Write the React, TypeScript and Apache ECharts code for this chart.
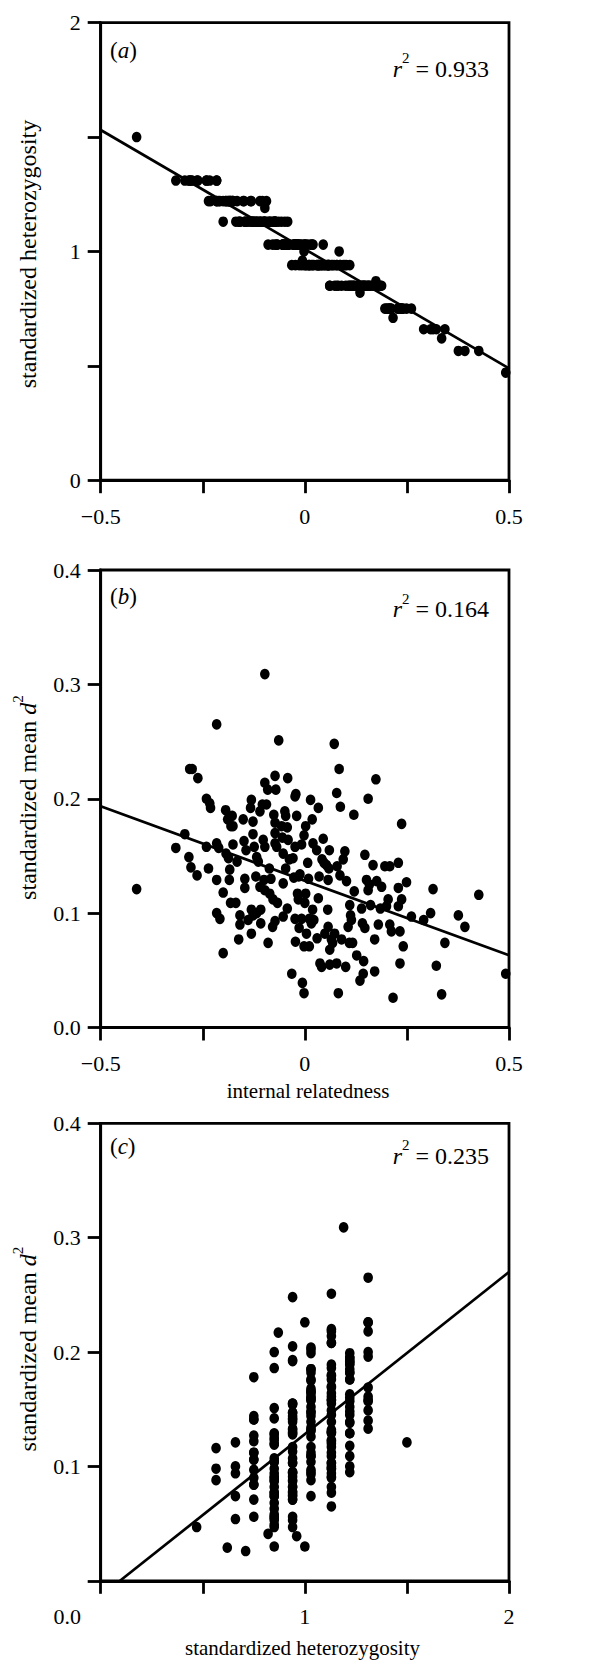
import React, { useEffect, useRef } from "react";
import * as echarts from "echarts";

// Each individual: internal relatedness (IR), standardized heterozygosity (HZ), standardized mean d2 (D2)
const IR = [
  -0.412, -0.316, -0.294, -0.284, -0.279, -0.264, -0.282, -0.276, -0.262, -0.241,
  -0.233, -0.231, -0.241, -0.236, -0.216, -0.216, -0.211, -0.216, -0.216, -0.208,
  -0.2, -0.2, -0.194, -0.189, -0.178, -0.181, -0.176, -0.193, -0.187, -0.184,
  -0.185, -0.182, -0.169, -0.166, -0.176, -0.162, -0.159, -0.159, -0.151, -0.149,
  -0.144, -0.147, -0.147, -0.139, -0.131, -0.133, -0.127, -0.127, -0.124, -0.118,
  -0.12, -0.114, -0.131, -0.127, -0.131, -0.118, -0.108, -0.108, -0.11, -0.104,
  -0.098, -0.094, -0.091, -0.102, -0.098, -0.11, -0.1, -0.098, -0.09, -0.087,
  -0.086, -0.083, -0.079, -0.078, -0.076, -0.073, -0.073, -0.071, -0.073, -0.073,
  -0.069, -0.067, -0.073, -0.064, -0.057, -0.055, -0.053, -0.053, -0.049, -0.047,
  -0.042, -0.043, -0.047, -0.043, -0.053, -0.041, -0.038, -0.032, -0.029, -0.027,
  -0.024, -0.022, -0.024, -0.024, -0.023, -0.02, -0.018, -0.016, -0.015, -0.014,
  -0.012, -0.008, -0.008, -0.006, -0.002, -0.002, -0.002, 0.0, 0.002, 0.002,
  0.004, 0.007, 0.009, 0.011, 0.011, 0.014, 0.016, 0.018, 0.019, 0.02,
  0.022, 0.029, 0.03, 0.033, 0.033, 0.035, 0.037, 0.041, 0.042, 0.045,
  0.047, 0.049, 0.053, 0.056, 0.057, 0.059, 0.06, 0.057, 0.061, 0.061,
  0.065, 0.068, 0.072, 0.073, 0.078, 0.078, 0.079, 0.082, 0.084, 0.086,
  0.087, 0.09, 0.094, 0.098, 0.1, 0.102, 0.106, 0.109, 0.11, 0.112,
  0.114, 0.117, 0.12, 0.121, 0.127, 0.135, 0.139, 0.141, 0.143, 0.144,
  0.147, 0.147, 0.151, 0.155, 0.155, 0.158, 0.161, 0.167, 0.171, 0.171,
  0.174, 0.176, 0.18, 0.185, 0.188, 0.196, 0.2, 0.204, 0.208, 0.208,
  0.212, 0.216, 0.229, 0.229, 0.229, 0.233, 0.233, 0.237, 0.237, 0.241,
  0.249, 0.261, 0.291, 0.308, 0.314, 0.322, 0.335, 0.343, 0.376, 0.392,
  0.426, 0.492, -0.098,
];

const HZ = [
  1.5, 1.31, 1.31, 1.31, 1.31, 1.31, 1.31, 1.31, 1.31, 1.31,
  1.31, 1.22, 1.31, 1.22, 1.31, 1.31, 1.22, 1.22, 1.22, 1.22,
  1.13, 1.22, 1.22, 1.22, 1.22, 1.22, 1.22, 1.22, 1.22, 1.22,
  1.22, 1.22, 1.13, 1.22, 1.22, 1.13, 1.13, 1.13, 1.22, 1.22,
  1.13, 1.13, 1.13, 1.13, 1.22, 1.22, 1.13, 1.13, 1.13, 1.13,
  1.13, 1.13, 1.13, 1.13, 1.13, 1.13, 1.13, 1.13, 1.22, 1.22,
  1.13, 1.22, 1.13, 1.13, 1.13, 1.13, 1.13, 1.13, 1.03, 1.13,
  1.13, 1.13, 1.03, 1.13, 1.13, 1.13, 1.13, 1.13, 1.13, 1.13,
  1.03, 1.03, 1.03, 1.13, 1.13, 1.03, 1.03, 1.03, 1.13, 1.03,
  1.13, 1.03, 1.03, 1.03, 1.03, 1.03, 1.03, 0.94, 1.03, 1.03,
  1.03, 1.03, 1.03, 1.03, 0.94, 1.03, 1.03, 1.03, 1.03, 0.94,
  1.03, 0.94, 1.03, 0.96, 1.0, 0.94, 1.03, 1.03, 0.94, 1.03,
  0.94, 1.03, 0.94, 0.94, 0.94, 1.03, 0.94, 1.03, 0.94, 1.03,
  0.94, 0.94, 0.94, 0.94, 0.94, 0.94, 0.94, 0.94, 0.94, 1.03,
  0.94, 0.94, 0.94, 0.94, 0.94, 0.94, 0.94, 0.94, 0.85, 0.85,
  0.94, 0.94, 0.94, 0.85, 0.94, 0.85, 0.94, 0.85, 1.0, 0.94,
  0.94, 0.85, 0.94, 0.94, 0.85, 0.94, 0.85, 0.85, 0.94, 0.85,
  0.85, 0.85, 0.85, 0.85, 0.85, 0.82, 0.85, 0.85, 0.85, 0.85,
  0.85, 0.85, 0.85, 0.85, 0.85, 0.85, 0.85, 0.85, 0.85, 0.85,
  0.87, 0.85, 0.85, 0.85, 0.85, 0.75, 0.75, 0.75, 0.75, 0.75,
  0.75, 0.71, 0.75, 0.75, 0.75, 0.75, 0.75, 0.75, 0.75, 0.75,
  0.75, 0.75, 0.66, 0.66, 0.66, 0.66, 0.62, 0.66, 0.565, 0.565,
  0.565, 0.47, 1.19,
];

const D2 = [
  0.121, 0.157, 0.169, 0.149, 0.14, 0.133, 0.226, 0.226, 0.218, 0.2,
  0.196, 0.192, 0.158, 0.139, 0.265, 0.161, 0.157, 0.129, 0.1, 0.095,
  0.065, 0.118, 0.19, 0.182, 0.185, 0.176, 0.176, 0.152, 0.148, 0.138,
  0.129, 0.109, 0.109, 0.145, 0.16, 0.077, 0.098, 0.09, 0.182, 0.163,
  0.155, 0.13, 0.122, 0.094, 0.199, 0.192, 0.18, 0.169, 0.158, 0.149,
  0.132, 0.145, 0.103, 0.098, 0.082, 0.1, 0.091, 0.103, 0.189, 0.195,
  0.214, 0.195, 0.208, 0.164, 0.158, 0.123, 0.129, 0.12, 0.074, 0.139,
  0.117, 0.13, 0.088, 0.112, 0.186, 0.179, 0.22, 0.208, 0.17, 0.161,
  0.158, 0.109, 0.093, 0.251, 0.176, 0.166, 0.152, 0.126, 0.189, 0.185,
  0.218, 0.175, 0.139, 0.104, 0.097, 0.164, 0.147, 0.047, 0.148, 0.131,
  0.202, 0.204, 0.158, 0.095, 0.075, 0.185, 0.117, 0.112, 0.132, 0.087,
  0.134, 0.095, 0.16, 0.039, 0.03, 0.071, 0.168, 0.109, 0.117, 0.176,
  0.082, 0.144, 0.13, 0.095, 0.071, 0.199, 0.091, 0.182, 0.103, 0.161,
  0.094, 0.155, 0.078, 0.192, 0.113, 0.132, 0.056, 0.053, 0.147, 0.165,
  0.144, 0.082, 0.142, 0.103, 0.129, 0.139, 0.155, 0.088, 0.068, 0.055,
  0.077, 0.074, 0.248, 0.082, 0.205, 0.056, 0.141, 0.03, 0.226, 0.133,
  0.193, 0.077, 0.147, 0.154, 0.053, 0.128, 0.088, 0.074, 0.107, 0.098,
  0.094, 0.074, 0.186, 0.119, 0.063, 0.041, 0.104, 0.091, 0.047, 0.058,
  0.087, 0.151, 0.129, 0.2, 0.12, 0.125, 0.107, 0.142, 0.077, 0.049,
  0.217, 0.128, 0.09, 0.104, 0.123, 0.141, 0.106, 0.112, 0.141, 0.09,
  0.084, 0.026, 0.144, 0.122, 0.106, 0.084, 0.056, 0.178, 0.112, 0.071,
  0.127, 0.097, 0.094, 0.1, 0.121, 0.054, 0.029, 0.074, 0.098, 0.088,
  0.116, 0.047, 0.309,
];

// fitted regression lines (end points)
const FIT_A = [[-0.5, 1.531], [0.5, 0.489]];
const FIT_B = [[-0.5, 0.1934], [0.5, 0.0632]];
const FIT_C = [[0.0945, 0], [2, 0.27]];

const PANEL_TAGS = ["a", "b", "c"];
const R2_VALUES = ["0.933", "0.164", "0.235"];
const Y_TITLES = [
  "{nm|standardized heterozygosity}",
  "{nm|standardized mean }{it|d}{sup|2}",
  "{nm|standardized mean }{it|d}{sup|2}",
];
const X_TITLES = ["internal relatedness", "standardized heterozygosity"];

const FONT = "Liberation Serif, Times New Roman, serif";
const TICK_FS = 22;

const near = (a: number, b: number) => Math.abs(a - b) < 1e-9;

export default function App() {
  const ref = useRef<HTMLDivElement>(null);

  useEffect(() => {
    document.body.style.margin = "0";
    if (!ref.current) return;
    const chart = echarts.init(ref.current, undefined, { renderer: "svg" });

    const LEFT = 100.7;
    const RIGHT = 592 - 509;
    const TOPS = [22.7, 570, 1123.3];
    const H = 457.5;
    const LW = 2.8;

    const axisLine = { show: true, onZero: false, lineStyle: { color: "#000", width: LW } };
    const axisTick = { show: true, inside: false, length: 13, lineStyle: { color: "#000", width: LW } };
    const labelBase = { fontFamily: FONT, fontSize: TICK_FS, color: "#000", showMinLabel: true, showMaxLabel: true };

    const irLabel = (v: number) =>
      near(v, -0.5) ? "\u22120.5" : near(v, 0) ? "0" : near(v, 0.5) ? "0.5" : "";

    const grids = TOPS.map((t) => ({
      left: LEFT,
      right: RIGHT,
      top: t,
      height: H,
      show: true,
      borderColor: "#000",
      borderWidth: LW,
      backgroundColor: "transparent",
      containLabel: false,
    }));

    const xAxes = [
      {
        gridIndex: 0, type: "value", min: -0.5, max: 0.5, interval: 0.25,
        axisLine, axisTick, splitLine: { show: false },
        axisLabel: { ...labelBase, margin: 25, formatter: irLabel },
      },
      {
        gridIndex: 1, type: "value", min: -0.5, max: 0.5, interval: 0.25,
        axisLine, axisTick, splitLine: { show: false },
        axisLabel: { ...labelBase, margin: 25, formatter: irLabel },
      },
      {
        gridIndex: 2, type: "value", min: 0, max: 2, interval: 0.5,
        axisLine, axisTick, splitLine: { show: false },
        axisLabel: {
          ...labelBase, margin: 25,
          formatter: (v: number) => (near(v, 1) ? "1" : near(v, 2) ? "2" : ""),
        },
      },
    ];

    const yAxes = [
      {
        gridIndex: 0, type: "value", min: 0, max: 2, interval: 0.5,
        axisLine, axisTick, splitLine: { show: false },
        axisLabel: {
          ...labelBase, margin: 20,
          formatter: (v: number) => (near(v, 0) ? "0" : near(v, 1) ? "1" : near(v, 2) ? "2" : ""),
        },
      },
      {
        gridIndex: 1, type: "value", min: 0, max: 0.4, interval: 0.1,
        axisLine, axisTick, splitLine: { show: false },
        axisLabel: { ...labelBase, margin: 20, formatter: (v: number) => v.toFixed(1) },
      },
      {
        gridIndex: 2, type: "value", min: 0, max: 0.4, interval: 0.1,
        axisLine, axisTick, splitLine: { show: false },
        axisLabel: {
          ...labelBase, margin: 20,
          formatter: (v: number) => (v < 1e-9 ? "" : v.toFixed(1)),
        },
      },
    ];

    const dot = {
      symbol: "circle",
      symbolSize: [9.6, 10.6],
      itemStyle: { color: "#000", opacity: 1 },
      clip: false,
      silent: true,
    };
    const fit = {
      type: "line", showSymbol: false, symbol: "none", silent: true,
      lineStyle: { color: "#000", width: 2.7 }, z: 3,
    };

    const series = [
      { type: "scatter", xAxisIndex: 0, yAxisIndex: 0, data: IR.map((x, i) => [x, HZ[i]]), ...dot },
      { ...fit, xAxisIndex: 0, yAxisIndex: 0, data: FIT_A },
      { type: "scatter", xAxisIndex: 1, yAxisIndex: 1, data: IR.map((x, i) => [x, D2[i]]), ...dot },
      { ...fit, xAxisIndex: 1, yAxisIndex: 1, data: FIT_B },
      { type: "scatter", xAxisIndex: 2, yAxisIndex: 2, data: HZ.map((x, i) => [x, D2[i]]), ...dot },
      { ...fit, xAxisIndex: 2, yAxisIndex: 2, data: FIT_C },
    ];

    const rich = {
      it: { fontFamily: FONT, fontStyle: "italic", fontSize: 24, lineHeight: 30, verticalAlign: "bottom", color: "#000" },
      nm: { fontFamily: FONT, fontSize: 24, lineHeight: 30, verticalAlign: "bottom", color: "#000" },
      sup: { fontFamily: FONT, fontSize: 15, lineHeight: 17, verticalAlign: "top", color: "#000" },
    };

    const txt = (x: number, y: number, text: string, opts: any = {}) => ({
      type: "text",
      x,
      y,
      rotation: opts.rotation || 0,
      silent: true,
      style: {
        text,
        fill: "#000",
        fontFamily: FONT,
        fontSize: opts.fontSize || 22,
        align: opts.align || "center",
        verticalAlign: "middle",
        rich: opts.rich,
      },
    });

    const TAG_Y = [50, 596.7, 1146.7];
    const R2_Y = [65.5, 606.3, 1152.5];
    const YT_Y = [254, 797.5, 1349];

    const graphics: any[] = [];
    PANEL_TAGS.forEach((t, i) => {
      graphics.push(
        txt(110, TAG_Y[i], `{p|(}{i|${t}}{p|)}`, {
          align: "left",
          rich: {
            p: { fontFamily: FONT, fontSize: 23, color: "#000" },
            i: { fontFamily: FONT, fontSize: 23, fontStyle: "italic", color: "#000" },
          },
        })
      );
      graphics.push(txt(489, R2_Y[i], `{it|r}{sup|2}{nm| = ${R2_VALUES[i]}}`, { align: "right", rich }));
      graphics.push(txt(25, YT_Y[i], Y_TITLES[i], { rotation: Math.PI / 2, fontSize: 24, rich }));
    });
    graphics.push(txt(308, 1090.5, X_TITLES[0], { fontSize: 21 }));
    graphics.push(txt(302.5, 1647.5, X_TITLES[1], { fontSize: 21 }));
    graphics.push(txt(81, 1616, "0.0", { align: "right", fontSize: TICK_FS }));

    chart.setOption({
      animation: false,
      backgroundColor: "#fff",
      grid: grids,
      xAxis: xAxes,
      yAxis: yAxes,
      series,
      graphic: { elements: graphics },
    });

    return () => chart.dispose();
  }, []);

  return <div ref={ref} style={{ width: 592, height: 1660 }} />;
}
